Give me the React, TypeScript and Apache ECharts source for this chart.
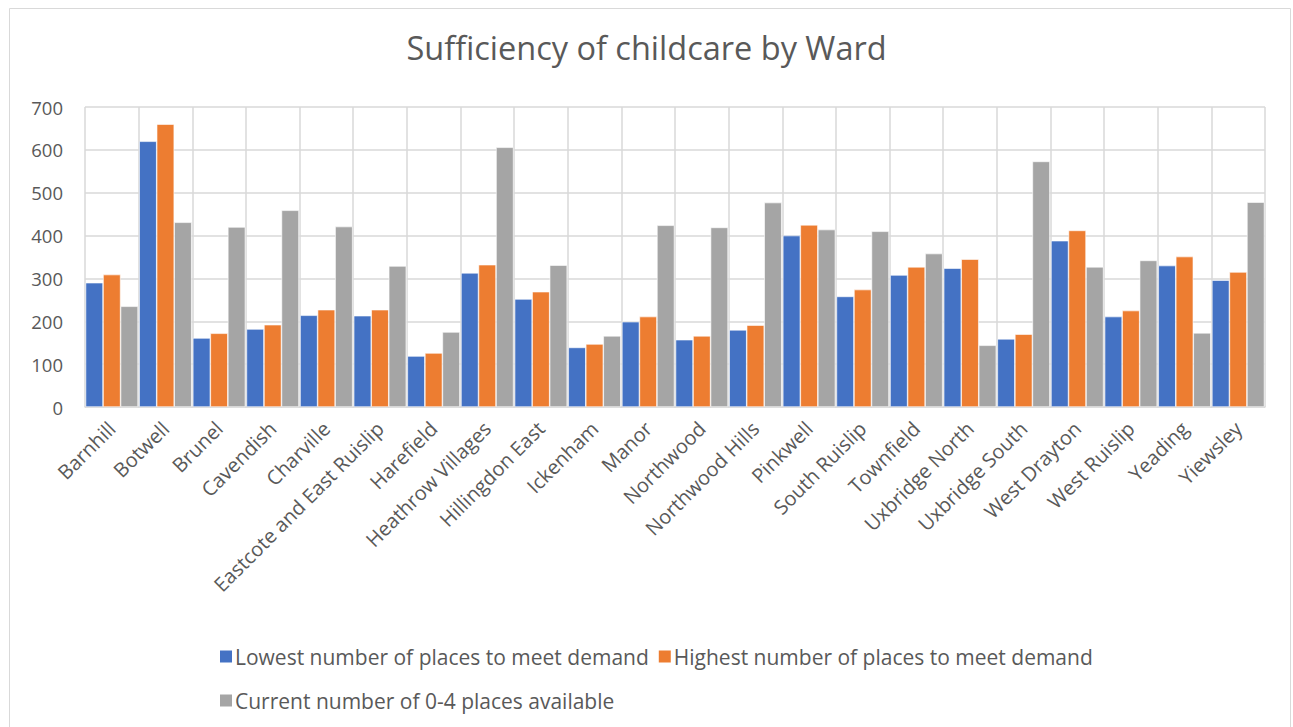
import React, { useEffect, useRef } from "react";
import * as echarts from "echarts";

const wards = [
  "Barnhill", "Botwell", "Brunel", "Cavendish", "Charville", "Eastcote and East Ruislip",
  "Harefield", "Heathrow Villages", "Hillingdon East", "Ickenham", "Manor", "Northwood",
  "Northwood Hills", "Pinkwell", "South Ruislip", "Townfield", "Uxbridge North",
  "Uxbridge South", "West Drayton", "West Ruislip", "Yeading", "Yiewsley",
];
const lowest = [290, 620, 161, 182, 214, 213, 119, 313, 252, 139, 199, 157, 180, 400, 258, 308, 324, 159, 388, 211, 330, 296];
const highest = [309, 660, 172, 192, 227, 227, 126, 332, 269, 147, 211, 166, 191, 425, 274, 327, 345, 170, 412, 225, 351, 315];
const current = [235, 431, 420, 459, 421, 329, 175, 606, 331, 166, 424, 419, 477, 414, 410, 358, 144, 573, 327, 342, 173, 478];
const yTicks = { min: 0, max: 700, interval: 100 };

const seriesNames = [
  "Lowest number of places to meet demand",
  "Highest number of places to meet demand",
  "Current number of 0-4 places available",
];
const colors = ["#4472C4", "#ED7D31", "#A5A5A5"];

const FONT = "Open Sans";
const TEXT = "#595959";
const GRID = "#D9D9D9";

export default function App() {
  const ref = useRef<HTMLDivElement>(null);
  useEffect(() => {
    if (!ref.current) return;
    const chart = echarts.init(ref.current, undefined, { renderer: "svg" });
    const data = [lowest, highest, current];
    chart.setOption({
      animation: false,
      backgroundColor: "#fff",
      textStyle: { fontFamily: FONT },
      title: {
        text: "Sufficiency of childcare by Ward",
        left: "center",
        top: 26,
        textStyle: { fontFamily: FONT, fontSize: 32.5, fontWeight: "normal", color: TEXT },
      },
      graphic: [
        {
          type: "rect",
          shape: { x: 9.5, y: 8.5, width: 1281, height: 730 },
          style: { fill: "none", stroke: GRID, lineWidth: 1 },
          silent: true,
        },
      ],
      legend: [
        {
          data: seriesNames.slice(0, 2),
          left: 213,
          top: 641,
          itemWidth: 14,
          itemHeight: 14,
          itemGap: 8,
          icon: "rect",
          textStyle: { fontFamily: FONT, fontSize: 21, color: TEXT, padding: [0, 0, 0, -3] },
        },
        {
          data: seriesNames.slice(2),
          left: 213,
          top: 685,
          itemWidth: 14,
          itemHeight: 14,
          icon: "rect",
          textStyle: { fontFamily: FONT, fontSize: 21, color: TEXT, padding: [0, 0, 0, -3] },
        },
      ],
      grid: { left: 85, right: 28, top: 107, bottom: 320, containLabel: false },
      xAxis: {
        type: "category",
        data: wards,
        axisLine: { lineStyle: { color: GRID, width: 1.5 } },
        axisTick: { show: false },
        splitLine: { show: true, lineStyle: { color: GRID, width: 1.5 } },
        axisLabel: {
          rotate: 45,
          interval: 0,
          fontFamily: FONT,
          fontSize: 20,
          color: TEXT,
          margin: 18,
        },
      },
      yAxis: {
        type: "value",
        ...yTicks,
        axisLine: { show: false },
        axisTick: { show: false },
        splitLine: { lineStyle: { color: GRID, width: 1.5 } },
        axisLabel: { fontFamily: FONT, fontSize: 18.5, color: TEXT, margin: 22 },
      },
      series: seriesNames.map((name, i) => ({
        name,
        type: "bar",
        data: data[i],
        barGap: "0%",
        barCategoryGap: "2%",
        itemStyle: { color: colors[i], borderColor: "#fff", borderWidth: 0.6 },
      })),
    });
    return () => chart.dispose();
  }, []);
  return (
    <div
      ref={ref}
      style={{ position: "absolute", left: 0, top: 0, width: 1293, height: 727 }}
    />
  );
}
